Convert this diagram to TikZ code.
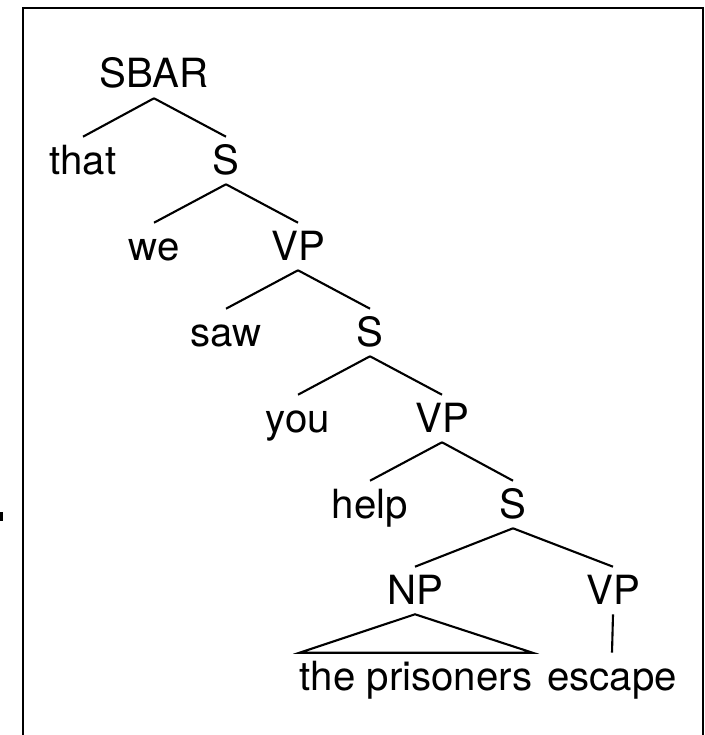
\documentclass[tikz,border=0pt]{standalone}
\usepackage{fontspec}
\setmainfont{TeX Gyre Heros}

\begin{document}
\begin{tikzpicture}[x=0.025cm,y=-0.025cm,
    every node/.style={anchor=base,inner sep=0pt,text height=0.925cm,text depth=0.25cm,font=\fontsize{28.6}{31}\selectfont},
    edge/.style={line width=1.5pt}]
                    \useasboundingbox (0,0) rectangle (704,735);
                    \draw[line width=1.6pt] (23,745) -- (23,8) -- (703,8) -- (703,745);
                    \fill (0,512) rectangle (3,521);

                    \node at (154,88) (sbar) {SBAR};
                    \node at (83,174) (that) {that};
                    \node at (226,174) (s1) {S};
                    \node at (154,260) (we) {we};
                    \node at (298,260) (vp1) {VP};
                    \node at (226,346) (saw) {saw};
                    \node at (370,346) (s2) {S};
                    \node at (298,432) (you) {you};
                    \node at (442,432) (vp2) {VP};
                    \node at (370,518) (help) {help};
                    \node at (513,518) (s3) {S};
                    \node at (415,604) (np) {NP};
                    \node at (613,604) (vp3) {VP};
                    \node at (416,690) (prisoners) {the prisoners};
                    \node at (612,690) (escape) {escape};

                    \draw[edge] (sbar.south) -- (that.north);
                    \draw[edge] (sbar.south) -- (s1.north);
                    \draw[edge] (s1.south) -- (we.north);
                    \draw[edge] (s1.south) -- (vp1.north);
                    \draw[edge] (vp1.south) -- (saw.north);
                    \draw[edge] (vp1.south) -- (s2.north);
                    \draw[edge] (s2.south) -- (you.north);
                    \draw[edge] (s2.south) -- (vp2.north);
                    \draw[edge] (vp2.south) -- (help.north);
                    \draw[edge] (vp2.south) -- (s3.north);
                    \draw[edge] (s3.south) -- (np.north);
                    \draw[edge] (s3.south) -- (vp3.north);
                    \draw[edge] (np.south) -- (prisoners.north west) -- (prisoners.north east) -- cycle;
                    \draw[edge] (vp3.south) -- (escape.north);
                \end{tikzpicture}
\end{document}
